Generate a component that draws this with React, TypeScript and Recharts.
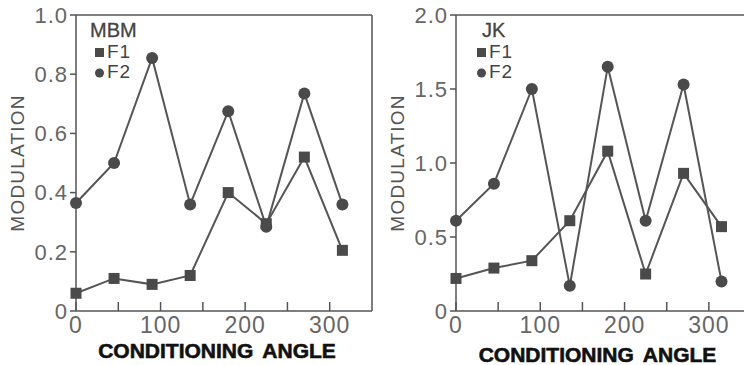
import React from "react";
import {
  LineChart,
  Line,
  XAxis,
  YAxis,
  ReferenceLine,
  Legend,
} from "recharts";

// conditioning angles (deg)
const angles = [0, 45, 90, 135, 180, 225, 270, 315];

// MBM panel
const mbmF1 = [0.06, 0.11, 0.09, 0.12, 0.4, 0.295, 0.52, 0.205];
const mbmF2 = [0.365, 0.5, 0.855, 0.36, 0.675, 0.285, 0.735, 0.36];
const mbmTicks = [0, 0.2, 0.4, 0.6, 0.8, 1.0];

// JK panel
const jkF1 = [0.22, 0.29, 0.34, 0.61, 1.08, 0.25, 0.93, 0.57];
const jkF2 = [0.61, 0.86, 1.5, 0.17, 1.65, 0.61, 1.53, 0.2];
const jkTicks = [0, 0.5, 1.0, 1.5, 2.0];

const xTicks = [0, 50, 100, 150, 200, 250, 300];

const INK = "#4a4a4a";
const AXIS = "#555";
const SANS = "'Liberation Sans', Arial, sans-serif";

function XTick(props: any) {
  const { x, y, payload } = props;
  const v = payload.value;
  return (
    <g>
      <line x1={x} y1={y} x2={x} y2={y - 9} stroke={AXIS} strokeWidth={1.5} />
      {v % 100 === 0 && (
        <text
          x={x}
          y={y + 22}
          textAnchor="middle"
          fontFamily={SANS}
          fontSize={23}
          fill="#666"
          letterSpacing={1}
        >
          {v}
        </text>
      )}
    </g>
  );
}

function Square(p: any) {
  if (p.cx == null) return <g key={p.index} />;
  return <rect key={p.index} x={p.cx - 5.5} y={p.cy - 5.5} width={11} height={11} fill={INK} />;
}

function Circle(p: any) {
  if (p.cx == null) return <g key={p.index} />;
  return <circle key={p.index} cx={p.cx} cy={p.cy} r={6} fill={INK} />;
}

function Panel({ name, f1, f2, yTicks, width, yAxisWidth, marginRight, yTitleX, xTitleDx, xTitleDy, legendLeft, nameDx }: any) {
  const yMax = yTicks[yTicks.length - 1];
  const data = angles.map((a, i) => ({ angle: a, F1: f1[i], F2: f2[i] }));
  const fmt = (v: number) => (v === 0 ? "0" : v.toFixed(1));

  const legend = () => (
    <svg width={80} height={70} style={{ display: "block" }}>
      <text x={nameDx} y={22} fontFamily={SANS} fontSize={20} fill="#444" stroke="#444" strokeWidth={0.3}>
        {name}
      </text>
      <rect x={9} y={33} width={9} height={9} fill={INK} />
      <text x={21} y={43} fontFamily={SANS} fontSize={19} fill="#444" letterSpacing={1}>
        F1
      </text>
      <circle cx={13.5} cy={58} r={4.5} fill={INK} />
      <text x={21} y={63} fontFamily={SANS} fontSize={19} fill="#444" letterSpacing={1}>
        F2
      </text>
    </svg>
  );

  return (
    <LineChart width={width} height={365} data={data} margin={{ top: 15, right: marginRight, left: 0, bottom: 0 }}>
      <XAxis
        dataKey="angle"
        type="number"
        domain={[0, 350]}
        ticks={xTicks}
        interval={0}
        height={54}
        tickSize={0}
        tickMargin={0}
        tickLine={false}
        tick={<XTick />}
        axisLine={{ stroke: AXIS, strokeWidth: 1.5 }}
        label={{
          content: (p: any) => {
            const vb = p.viewBox || { x: 0, y: 311, width: 296 };
            return (
              <text
                x={vb.x + vb.width / 2 + xTitleDx}
                y={vb.y + xTitleDy}
                textAnchor="middle"
                fontFamily={SANS}
                fontWeight="bold"
                fontSize={21}
                fill="#111"
                stroke="#111"
                strokeWidth={0.6}
                wordSpacing={4}
              >
                CONDITIONING ANGLE
              </text>
            );
          },
        }}
      />
      <YAxis
        type="number"
        domain={[0, yMax]}
        ticks={yTicks}
        interval={0}
        width={yAxisWidth}
        tickFormatter={fmt}
        tickSize={6}
        tickMargin={2}
        tickLine={{ stroke: AXIS, strokeWidth: 1.5 }}
        axisLine={{ stroke: AXIS, strokeWidth: 1.5 }}
        tick={{ fontFamily: SANS, fontSize: 22, fill: "#666", letterSpacing: 1 }}
        label={{
          content: (p: any) => {
            const vb = p.viewBox || { x: 0, y: 15, height: 296 };
            const cy = vb.y + vb.height / 2;
            return (
              <text
                x={yTitleX}
                y={cy}
                transform={`rotate(-90, ${yTitleX}, ${cy})`}
                textAnchor="middle"
                dominantBaseline="central"
                fontFamily={SANS}
                fontSize={19}
                fill="#555"
                letterSpacing={1.2}
              >
                MODULATION
              </text>
            );
          },
        }}
      />
      <ReferenceLine y={yMax} stroke={AXIS} strokeWidth={1.5} />
      <ReferenceLine x={350} stroke={AXIS} strokeWidth={1.5} />
      <Legend
        layout="vertical"
        align="center"
        verticalAlign="middle"
        wrapperStyle={{ left: legendLeft, top: 15, width: 80 }}
        content={legend}
      />
      <Line dataKey="F1" stroke={AXIS} strokeWidth={2} dot={Square} isAnimationActive={false} />
      <Line dataKey="F2" stroke={AXIS} strokeWidth={2} dot={Circle} isAnimationActive={false} />
    </LineChart>
  );
}

export default function App() {
  return (
    <div
      style={{
        position: "fixed",
        left: 0,
        top: 0,
        width: 744,
        height: 365,
        overflow: "hidden",
        background: "#fff",
      }}
    >
      <div style={{ position: "absolute", left: 0, top: 0 }}>
        <Panel
          name="MBM"
          f1={mbmF1}
          f2={mbmF2}
          yTicks={mbmTicks}
          width={380}
          yAxisWidth={76}
          marginRight={8}
          yTitleX={17}
          xTitleDx={-7}
          xTitleDy={47}
          legendLeft={86}
          nameDx={4}
        />
      </div>
      <div style={{ position: "absolute", left: 372, top: 0 }}>
        <Panel
          name="JK"
          f1={jkF1}
          f2={jkF2}
          yTicks={jkTicks}
          width={381}
          yAxisWidth={84}
          marginRight={2}
          yTitleX={25}
          xTitleDx={-6}
          xTitleDy={51}
          legendLeft={96}
          nameDx={14}
        />
      </div>
    </div>
  );
}
